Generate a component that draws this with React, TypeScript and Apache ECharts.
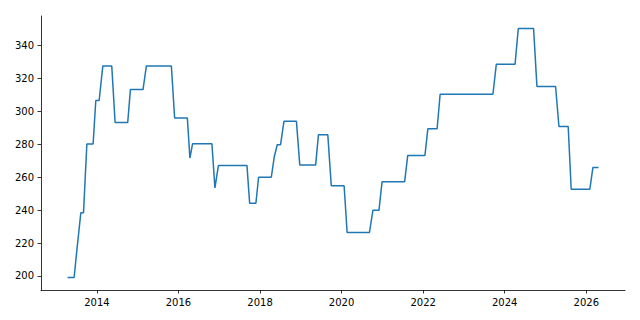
import React, { useEffect, useRef } from "react";
import * as echarts from "echarts";

// Vertices of the series
const dates: string[] = [
  "2013-04-13", "2013-06-11", "2013-07-03", "2013-08-10", "2013-09-03", "2013-10-03",
  "2013-11-28", "2013-12-22", "2014-01-21", "2014-02-23", "2014-05-14", "2014-06-13",
  "2014-10-04", "2014-10-28", "2015-02-18", "2015-03-20", "2015-10-30", "2015-11-28",
  "2016-03-21", "2016-04-13", "2016-05-07", "2016-10-27", "2016-11-23", "2016-12-24",
  "2017-09-06", "2017-09-30", "2017-11-25", "2017-12-19", "2018-04-12", "2018-05-08",
  "2018-06-04", "2018-07-04", "2018-08-03", "2018-11-23", "2018-12-23", "2019-05-14",
  "2019-06-08", "2019-08-31", "2019-10-01", "2020-01-24", "2020-02-20", "2020-09-07",
  "2020-10-08", "2020-12-01", "2020-12-29", "2021-07-19", "2021-08-16", "2022-01-17",
  "2022-02-12", "2022-05-06", "2022-06-02", "2023-09-18", "2023-10-18", "2024-04-03",
  "2024-05-02", "2024-09-16", "2024-10-16", "2025-04-01", "2025-05-01", "2025-07-23",
  "2025-08-19", "2026-02-02", "2026-03-01", "2026-04-20",
];

const values: number[] = [
  199, 199, 214, 238.4, 238.4, 280.2,
  280.2, 306.7, 306.7, 327.7, 327.7, 293.3,
  293.3, 313.3, 313.3, 327.7, 327.7, 296,
  296, 271.7, 280.4, 280.4, 253.5, 267.1,
  267.1, 244.2, 244.2, 260, 260, 272.3,
  279.8, 279.8, 294, 294, 267.4, 267.4,
  285.8, 285.8, 254.8, 254.8, 226.4, 226.4,
  239.9, 239.9, 257.3, 257.3, 273.3, 273.3,
  289.5, 289.5, 310.5, 310.5, 328.7, 328.7,
  350.5, 350.5, 315.2, 315.2, 290.9, 290.9,
  252.7, 252.7, 265.9, 265.9,
];

const yTicks: number[] = [200, 220, 240, 260, 280, 300, 320, 340];
const xTickYears: number[] = [2014, 2016, 2018, 2020, 2022, 2024, 2026];

function parseDate(s: string): number {
  const [y, m, d] = s.split("-").map(Number);
  return Date.UTC(y, m - 1, d);
}

export default function App() {
  const ref = useRef<HTMLDivElement>(null);
  useEffect(() => {
    if (!ref.current) return;
    const chart = echarts.init(ref.current, undefined, { renderer: "svg" });
    const times = dates.map(parseDate);
    const tMin = Math.min(...times);
    const tMax = Math.max(...times);
    const tPad = (tMax - tMin) * 0.05;
    const vMin = Math.min(...values);
    const vMax = Math.max(...values);
    const vPad = (vMax - vMin) * 0.05;
    const xTicks = xTickYears.map((y) => Date.UTC(y, 0, 1));
    const font = "DejaVu Sans";
    chart.setOption({
      animation: false,
      grid: { left: 41, right: 15, top: 16, bottom: 30 },
      xAxis: {
        type: "value",
        min: tMin - tPad,
        max: tMax + tPad,
        scale: true,
        axisLine: { show: true, lineStyle: { color: "#000", width: 0.8 } },
        axisTick: { show: true, customValues: xTicks, length: 3.5, lineStyle: { color: "#000", width: 0.8 } },
        axisLabel: {
          customValues: xTicks,
          formatter: (v: number) => String(new Date(v).getUTCFullYear()),
          color: "#000",
          fontFamily: font,
          fontSize: 10,
          margin: 7,
        },
        splitLine: { show: false },
      },
      yAxis: {
        type: "value",
        min: vMin - vPad,
        max: vMax + vPad,
        axisLine: { show: true, lineStyle: { color: "#000", width: 0.8 } },
        axisTick: { show: true, customValues: yTicks, length: 3.5, lineStyle: { color: "#000", width: 0.8 } },
        axisLabel: {
          customValues: yTicks,
          color: "#000",
          fontFamily: font,
          fontSize: 10,
          margin: 7,
        },
        splitLine: { show: false },
      },
      series: [
        {
          type: "line",
          data: times.map((t, i) => [t, values[i]]),
          showSymbol: false,
          symbol: "none",
          lineStyle: { color: "#1f77b4", width: 1.5 },
        },
      ],
    });
    return () => chart.dispose();
  }, []);
  return (
    <div
      ref={ref}
      style={{ position: "fixed", left: 0, top: 0, width: 640, height: 320, background: "#fff" }}
    />
  );
}
